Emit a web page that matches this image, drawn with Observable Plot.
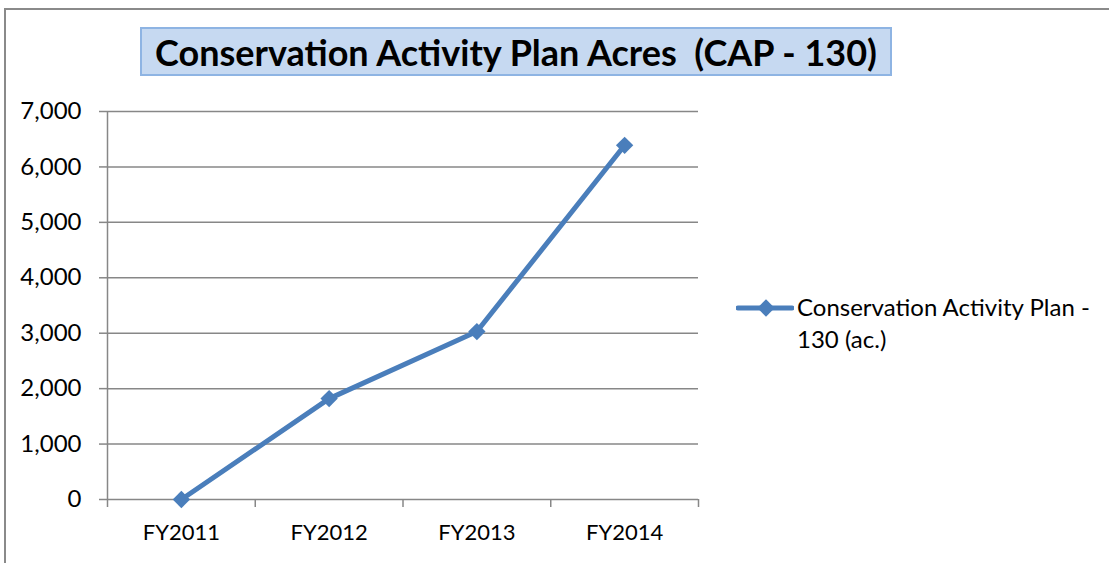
<!DOCTYPE html>
<html>
<head>
<meta charset="utf-8">
<script src="https://cdn.jsdelivr.net/npm/d3@7"></script>
<script src="https://cdn.jsdelivr.net/npm/@observablehq/plot@0.6"></script>
<style>
  html, body { margin: 0; padding: 0; background: #fff; overflow: hidden; }
  #wrap { position: relative; width: 1109px; height: 563px; overflow: hidden; font-family: Lato, sans-serif; }
  #frame { position: absolute; left: 4px; top: 8px; width: 1120px; height: 600px; border: 2px solid #8a8a8a; box-sizing: border-box; }
  #title { position: absolute; left: 140px; top: 27px; width: 752px; height: 49px; box-sizing: border-box;
           background: #C6D9F1; border: 2px solid #8EB4E3; display: flex; align-items: center; justify-content: center;
           font-weight: 700; font-size: 36px; color: #000; white-space: nowrap; }
  #chart { position: absolute; left: 0; top: 0; }
  #legend { position: absolute; left: 736px; top: 291px; display: flex; align-items: flex-start; }
  #legend svg { margin-top: 5px; }
  #legend .lbl { font-size: 24px; line-height: 32px; color: #000; margin-left: 3px; }
</style>
</head>
<body>
<div id="wrap">
  <div id="frame"></div>
  <div id="chart"></div>
  <div id="title">Conservation Activity Plan Acres&nbsp;&nbsp;(CAP - 130)</div>
  <div id="legend"></div>
</div>
<script>
const categories = ["FY2011", "FY2012", "FY2013", "FY2014"];
const acres = [0, 1820, 3030, 6390];
const yTicks = [0, 1000, 2000, 3000, 4000, 5000, 6000, 7000];
const seriesName = "Conservation Activity Plan - 130 (ac.)";

const lineColor = "#4A7EBB";
const gridColor = "#878787";
const markerR = 7.8;

const data = categories.map((c, i) => ({cat: c, xi: i + 0.5, value: acres[i]}));
const boundaries = d3.range(categories.length + 1);
const centers = categories.map((c, i) => i + 0.5);

const chart = Plot.plot({
  width: 720,
  height: 563,
  marginLeft: 107,
  marginRight: 22,
  marginTop: 111,
  marginBottom: 64,
  style: {fontFamily: "Lato, sans-serif", fontSize: "22px", color: "#000", background: "transparent"},
  x: {type: "linear", domain: [0, categories.length], axis: null},
  y: {domain: [0, 7000], axis: null},
  marks: [
    Plot.gridY(yTicks, {stroke: gridColor, strokeOpacity: 1, strokeWidth: 1.5}),
    Plot.axisY(yTicks, {label: null, tickSize: 8, tickPadding: 18, stroke: gridColor, strokeWidth: 1.5, tickFormat: d3.format(","), fontSize: 24, fill: "#000"}),
    Plot.ruleX([0], {stroke: gridColor, strokeWidth: 1.5}),
    Plot.axisX(boundaries, {label: null, tickSize: 8, stroke: gridColor, strokeWidth: 1.5, tickFormat: () => ""}),
    Plot.axisX(centers, {label: null, tickSize: 0, tickPadding: 25, tickFormat: d => categories[Math.floor(d)], fontSize: 22, fill: "#000"}),
    Plot.line(data, {x: "xi", y: "value", stroke: lineColor, strokeWidth: 5, strokeLinejoin: "round", strokeLinecap: "round"}),
    Plot.dot(data, {x: "xi", y: "value", symbol: "diamond2", r: markerR, fill: lineColor, stroke: "none"})
  ]
});
document.getElementById("chart").appendChild(chart);

// legend
const leg = document.getElementById("legend");
const sw = d3.create("svg").attr("width", 58).attr("height", 24);
sw.append("line").attr("x1", 2).attr("x2", 56).attr("y1", 12).attr("y2", 12)
  .attr("stroke", lineColor).attr("stroke-width", 5).attr("stroke-linecap", "round");
sw.append("path").attr("d", d3.symbol(d3.symbolDiamond2, markerR * markerR * Math.PI)()).attr("transform", "translate(30,12)").attr("fill", lineColor);
leg.appendChild(sw.node());
const lbl = document.createElement("div");
lbl.className = "lbl";
lbl.innerHTML = "Conservation Activity Plan -<br>130 (ac.)";
leg.appendChild(lbl);
</script>
</body>
</html>
